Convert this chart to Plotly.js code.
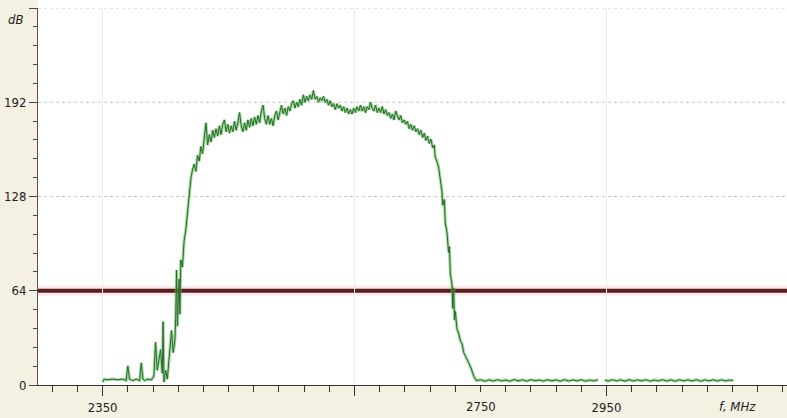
<!DOCTYPE html>
<html>
<head>
<meta charset="utf-8">
<script src="https://cdn.plot.ly/plotly-3.0.1.min.js"></script>
<style>
html,body{margin:0;padding:0;background:#f4f0e2;}
#chart{width:787px;height:418px;}
</style>
</head>
<body>
<div id="chart"></div>
<script>
// Frequency axis values (axis units, MHz as drawn on the scale)
const freq = [
2350,2352,2356,2362,2368,2374,2378,2380,2382,2386,2390,2394,2396,2398,2400,2404,2408,2411,2413,2415,
2417,2419,2421,2422,2423,2425,2427,2429,2431,2432,2434,2436,2437,2438,2439,2440,2441,2442,2443,2445,
2447,2449,2451,2453,2455,2457,2459,2461,2463,2465,2467,2469,2471,2473,2475,2477,2479,2481,2483,2485,
2487,2489,2491,2493,2495,2497,2499,2501,2503,2505,2507,2509,2511,2513,2515,2517,2519,2521,2523,2525,
2527,2529,2531,2533,2535,2537,2539,2541,2543,2545,2547,2549,2551,2553,2555,2557,2559,2561,2563,2565,
2567,2569,2571,2573,2575,2577,2579,2581,2583,2585,2587,2589,2591,2593,2595,2597,2599,2601,2603,2605,
2607,2609,2611,2613,2615,2617,2619,2621,2623,2625,2627,2629,2631,2633,2635,2637,2639,2641,2643,2645,
2647,2649,2651,2653,2655,2657,2659,2661,2663,2665,2667,2669,2671,2673,2675,2677,2679,2681,2683,2685,
2687,2689,2691,2693,2695,2697,2699,2701,2703,2705,2707,2709,2711,2713,2715,2717,2719,2721,2723,2725,
2727,2729,2731,2733,2735,2737,2739,2741,2743,2745,2746,2748,2750,2752,2754,2755,2757,2758,2760,2762,
2763,2764,2766,2767,2768,2769,2770,2772,2774,2776,2778,2780,2783,2786,2789,2792,2795,2800,2805,2810,
2815,2820,2825,2830,2835,2840,2845,2850,2855,2860,2865,2870,2875,2880,2885,2890,2895,2900,2905,2910,
2915,2920,2925,2930,2935,2940,2944,2948,2952,2957,2962,2967,2972,2977,2982,2987,2992,2997,3002,3007,
3012,3017,3022,3027,3032,3037,3042,3047,3052,3057,3062,3067,3072,3077,3082,3087,3092,3097,3101
];
// Level, dB
const level = [
2,4,3.5,4,3.5,4,3,13,4,3,4,3,15,4,3,4,3.5,6,29,10,
17,24,8,43,2,10,4,17,30,37,22,30,46,78,40,55,72,48,85,80,
98,105,118,128,140,146,150,145,156,152,162,157,166,178,163,170,165,173,168,174,
169,176,170,177,180,172,177,171,176,172,179,173,178,185,176,172,178,173,180,175,
181,176,182,177,183,178,186,190,181,177,183,177,181,176,183,186,180,186,190,184,
188,183,189,186,191,193,188,192,189,194,190,197,192,196,193,197,194,200,194,196,
192,195,193,196,192,194,190,193,189,191,187,191,188,190,186,189,185,188,184,187,
184,188,185,189,186,190,186,189,185,189,187,192,188,186,190,185,188,185,189,184,
187,183,185,181,184,180,186,183,180,183,178,180,177,179,174,177,173,176,172,174,
170,173,168,171,166,169,164,167,161,163,155,152,148,140,132,122,126,110,104,90,
94,76,68,52,66,44,50,38,35,30,28,22,19,15,11,6,3,3.6,2.6,3.5,
2.7,3.6,2.8,3.4,2.6,3.7,2.8,3.5,2.6,3.6,2.9,3.4,2.7,3.6,2.8,3.5,2.6,3.6,2.7,3.5,
2.8,3.6,2.6,3.4,2.8,3.6,null,3.5,2.6,3.6,2.8,3.5,2.6,3.6,2.7,3.5,2.8,3.6,2.6,3.4,
2.8,3.6,2.7,3.5,2.6,3.6,2.8,3.5,2.7,3.6,2.6,3.5,2.8,3.6,2.7,3.5,2.8,3.4,3
];
const threshold = 64;

const xMajorTicks = [2350, 2650, 2950];
const xMajorLabels = ['2350', '', '2950'];
const xExtraLabel = {at: 2800, text: '2750'};
const yTicks = [0, 64, 128, 192, 256];
const yLabels = ['0', '64', '128', '192', ''];

const FONT = '"Liberation Sans Narrow", "DejaVu Sans Condensed", Arial, sans-serif';

const traces = [
  {x: freq, y: level, type: 'scatter', mode: 'lines', connectgaps: false,
   line: {color: 'rgba(90,190,90,0.6)', width: 3}, hoverinfo: 'skip', showlegend: false},
  {x: freq, y: level, type: 'scatter', mode: 'lines', connectgaps: false,
   line: {color: '#2c6a2c', width: 1}, showlegend: false}
];

// dotted horizontal grid lines (drawn as shapes so the threshold line sits on top of them)
const gridShapes = yTicks.filter(v => v > 0).map(v => ({
  type: 'line', xref: 'paper', yref: 'y', x0: 0, x1: 1, y0: v, y1: v,
  line: {color: '#c8c8c8', width: 1, dash: 'dot'}, layer: 'below'
}));

const layout = {
  width: 787, height: 418,
  margin: {l: 38, r: 0, t: 8, b: 33, pad: 0},
  paper_bgcolor: '#f4f0e2',
  plot_bgcolor: '#ffffff',
  font: {family: FONT, size: 12, color: '#222'},
  showlegend: false,
  xaxis: {
    range: [2273, 3165], fixedrange: true,
    tickmode: 'array', tickvals: xMajorTicks, ticktext: xMajorLabels,
    ticks: 'outside', ticklen: 10, tickwidth: 1, tickcolor: '#333',
    showline: true, linecolor: '#333', linewidth: 1,
    showgrid: true, gridcolor: '#ececec', gridwidth: 1,
    zeroline: false,
    tickfont: {family: FONT, size: 13, color: '#222'},
    minor: {tickmode: 'linear', tick0: 2350, dtick: 30, ticks: 'outside', ticklen: 6, tickcolor: '#333', showgrid: false}
  },
  yaxis: {
    range: [0, 256], fixedrange: true,
    tickmode: 'array', tickvals: yTicks, ticktext: yLabels,
    ticks: 'outside', ticklen: 8, tickwidth: 1, tickcolor: '#444',
    showline: true, linecolor: '#555', linewidth: 1,
    showgrid: false,
    zeroline: false,
    tickfont: {family: FONT, size: 13, color: '#222'},
    minor: {tickmode: 'linear', tick0: 0, dtick: 12.8, ticks: 'outside', ticklen: 4, tickcolor: '#444', showgrid: false}
  },
  shapes: [
    {type: 'rect', xref: 'paper', yref: 'paper', x0: 0, x1: 1, y0: 1, y1: 1.03,
     fillcolor: '#ffffff', line: {width: 0}, layer: 'below'},
    ...gridShapes,
    {type: 'line', xref: 'paper', yref: 'y', x0: 0, x1: 1, y0: threshold, y1: threshold,
     line: {color: 'rgba(240,150,150,0.22)', width: 10}, layer: 'below'},
    {type: 'line', xref: 'paper', yref: 'y', x0: 0, x1: 1, y0: threshold, y1: threshold,
     line: {color: '#5a1c20', width: 4}, layer: 'below'}
  ],
  annotations: [
    {text: '<i>dB</i>', xref: 'paper', yref: 'y', x: 0, y: 256, xanchor: 'right', yanchor: 'top',
     xshift: -13, yshift: -2, showarrow: false, font: {family: FONT, size: 13, color: '#222'}},
    {text: xExtraLabel.text, xref: 'x', yref: 'paper', x: xExtraLabel.at, y: 0, xanchor: 'center', yanchor: 'top',
     yshift: -12, showarrow: false, font: {family: FONT, size: 13, color: '#222'}},
    {text: '<i>f, MHz</i>', xref: 'x', yref: 'paper', x: 3106, y: 0, xanchor: 'center', yanchor: 'top',
     yshift: -12, showarrow: false, font: {family: FONT, size: 13, color: '#222'}}
  ]
};

Plotly.newPlot('chart', traces, layout, {staticPlot: true, displayModeBar: false});
</script>
</body>
</html>
